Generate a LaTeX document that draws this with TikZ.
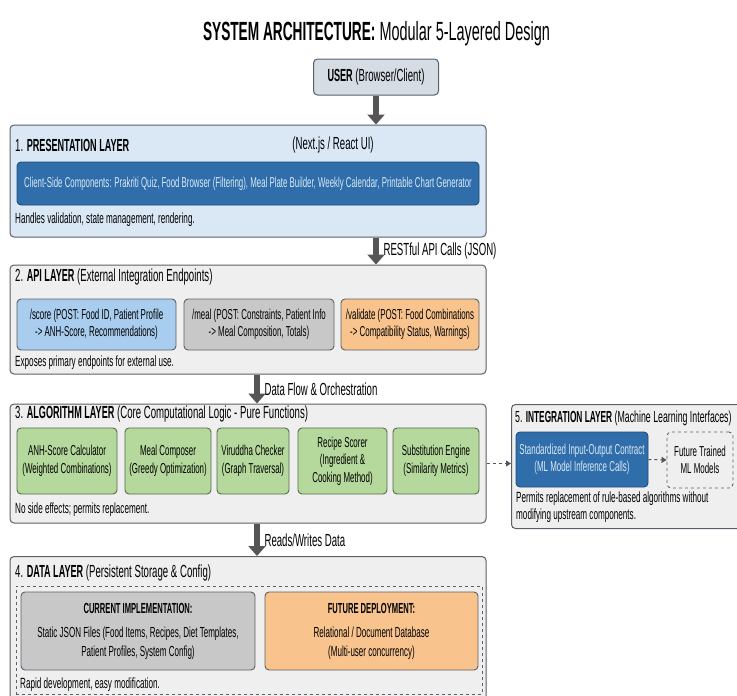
\documentclass[tikz,border=0pt]{standalone}
\usepackage{fontspec}
\setmainfont{Liberation Sans}[FakeStretch=0.55, BoldFeatures={FakeStretch=0.52}]
\usetikzlibrary{arrows.meta,positioning}

\definecolor{edgegray}{HTML}{5B6068}
\definecolor{layergray}{HTML}{EFEFEF}
\definecolor{layerblue}{HTML}{DAE8F5}
\definecolor{userfill}{HTML}{D5DCE3}
\definecolor{deepblue}{HTML}{2F6EAA}
\definecolor{deepedge}{HTML}{1F4D7C}
\definecolor{lightblue}{HTML}{A9CDEE}
\definecolor{midgray}{HTML}{C8C8C8}
\definecolor{softorange}{HTML}{F8C38D}
\definecolor{leafgreen}{HTML}{B5D99C}
\definecolor{leafedge}{HTML}{58694F}
\definecolor{arrowgray}{HTML}{555555}

\newcommand{\titlesize}{\fontsize{26.3}{30}\selectfont}
\newcommand{\headsize}{\fontsize{17.5}{20}\selectfont}
\newcommand{\bodysize}{\fontsize{14.8}{17}\selectfont}
\newcommand{\boxsize}{\fontsize{14.4}{17.5}\selectfont}

\tikzset{
  layerbox/.style={draw=edgegray, line width=1pt, rounded corners=4pt, fill=layergray},
  innerbox/.style={draw=edgegray, line width=0.9pt, rounded corners=4pt, align=center, font=\boxsize, inner sep=2pt},
  greenbox/.style={innerbox, draw=leafedge, fill=leafgreen},
  headtext/.style={anchor=west, font=\headsize, inner sep=0pt},
  notetext/.style={anchor=west, font=\bodysize, inner sep=0pt},
  flowarrow/.style={draw=arrowgray, line width=6.5pt, -{Triangle[width=17pt,length=10pt]}},
  dasharrow/.style={draw=arrowgray, line width=1pt, dashed, -{Triangle[width=6pt,length=5pt]}}
}

\begin{document}
\begin{tikzpicture}[x=1pt, y=-1pt]
\useasboundingbox[fill=white] (0,0) rectangle (737,696);
\clip (0,0) rectangle (737,696);

% title and user
\node[anchor=base, inner sep=0pt] (title) at (376.5,40) {\titlesize\textbf{SYSTEM ARCHITECTURE:} Modular 5-Layered Design};
\node[draw=edgegray, line width=1pt, rounded corners=4pt, fill=userfill, minimum width=125pt, minimum height=36pt, font=\headsize] (user) at (376,77) {\textbf{USER} (Browser/Client)};

% 1. presentation layer
\node[layerbox, fill=layerblue, minimum width=476pt, minimum height=112pt] (pres) at (248,181) {};
\node[headtext] (preshead) at (15,145) {1. \textbf{PRESENTATION LAYER}};
\node[font=\headsize, inner sep=0pt] (presui) at (333,145) {(Next.js / React UI)};
\node[innerbox, draw=deepedge, fill=deepblue, text=layerblue, font=\fontsize{14.3}{17}\selectfont, minimum width=462pt, minimum height=43pt] (client) at (248,183.5)
  {Client-Side Components: Prakriti Quiz, Food Browser (Filtering), Meal Plate Builder, Weekly Calendar, Printable Chart Generator};
\node[notetext] (presnote) at (15,220) {Handles validation, state management, rendering.};

% 2. api layer
\node[layerbox, minimum width=476pt, minimum height=109pt] (api) at (248,319.5) {};
\node[headtext] (apihead) at (15,277) {2. \textbf{API LAYER} (External Integration Endpoints)};
\node[innerbox, fill=lightblue, minimum width=159pt, minimum height=51pt] (score) at (96.5,324.5)
  {/score (POST: Food ID, Patient Profile\\-> ANH-Score, Recommendations)};
\node[innerbox, fill=midgray, minimum width=150pt, minimum height=51pt] (meal) at (259,324.5)
  {/meal (POST: Constraints, Patient Info\\-> Meal Composition, Totals)};
\node[innerbox, fill=softorange, minimum width=138pt, minimum height=51pt] (validate) at (410,324.5)
  {/validate (POST: Food Combinations\\-> Compatibility Status, Warnings)};
\node[notetext] (apinote) at (15,363) {Exposes primary endpoints for external use.};

% 3. algorithm layer
\node[layerbox, minimum width=476pt, minimum height=119pt] (algo) at (248,463.5) {};
\node[headtext] (algohead) at (15,414) {3. \textbf{ALGORITHM LAYER} (Core Computational Logic - Pure Functions)};
\foreach \cx/\w/\txt [count=\i] in {67/100/{ANH-Score Calculator\\(Weighted Combinations)},
    168/86/{Meal Composer\\(Greedy Optimization)},
    253/72/{Viruddha Checker\\(Graph Traversal)},
    342.5/89/{Recipe Scorer\\(Ingredient \&\\Cooking Method)},
    436/86/{Substitution Engine\\(Similarity Metrics)}}
  {\node[greenbox, minimum width=\w pt, minimum height=66pt] (alg\i) at (\cx,461) {\txt};}
\node[notetext] (algonote) at (15,510) {No side effects; permits replacement.};

% 5. integration layer
\node[layerbox, minimum width=240pt, minimum height=124pt, anchor=north west] (integ) at (511,404) {};
\node[headtext, font=\fontsize{16}{19}\selectfont] (integhead) at (515,418) {5. \textbf{INTEGRATION LAYER} (Machine Learning Interfaces)};
\node[innerbox, draw=deepedge, fill=deepblue, text=layerblue, minimum width=132pt, minimum height=55pt] (contract) at (582,459.5)
  {Standardized Input-Output Contract\\(ML Model Inference Calls)};
\node[innerbox, dashed, fill=layergray, minimum width=66pt, minimum height=56pt] (future) at (700,460)
  {Future Trained\\ML Models};
\node[anchor=north west, align=left, font=\bodysize, inner sep=0pt] (integnote) at (516,492)
  {Permits replacement of rule-based algorithms without\\modifying upstream components.};

% 4. data layer
\node[layerbox, minimum width=476pt, minimum height=170pt, anchor=north] (data) at (248,556) {};
\node[headtext] (datahead) at (15,573) {4. \textbf{DATA LAYER} (Persistent Storage \& Config)};
\node[draw=edgegray, dashed, line width=0.8pt, minimum width=466pt, minimum height=108pt, anchor=north west] (store) at (15.5,586) {};
\node[innerbox, fill=midgray, font=\fontsize{14.6}{19}\selectfont, minimum width=234pt, minimum height=78pt] (current) at (138,631)
  {\textbf{CURRENT IMPLEMENTATION:}\\[5pt]Static JSON Files (Food Items, Recipes, Diet Templates,\\Patient Profiles, System Config)};
\node[innerbox, fill=softorange, font=\fontsize{14.6}{19}\selectfont, minimum width=213pt, minimum height=78pt] (futuredb) at (371.5,631)
  {\textbf{FUTURE DEPLOYMENT:}\\[5pt]Relational / Document Database\\(Multi-user concurrency)};
\node[notetext] (datanote) at (20,685) {Rapid development, easy modification.};

% connectors
\coordinate (flowx) at (257,0);
\draw[flowarrow] (user.south) -- (pres.north -| user);
\draw[flowarrow] (pres.south -| user) -- node[right=1pt, font=\headsize] (restlbl) {RESTful API Calls (JSON)} (api.north -| user);
\draw[flowarrow] (api.south -| flowx) -- node[right=1pt, font=\headsize] (flowlbl) {Data Flow \& Orchestration} (algo.north -| flowx);
\draw[flowarrow] (algo.south -| flowx) -- node[right=1pt, font=\headsize] (rwlbl) {Reads/Writes Data} (data.north -| flowx);
\draw[dasharrow] (algo.east) -- (algo.east -| integ.west);
\draw[dasharrow] (contract.east) -- (future.west);
\end{tikzpicture}
\end{document}
